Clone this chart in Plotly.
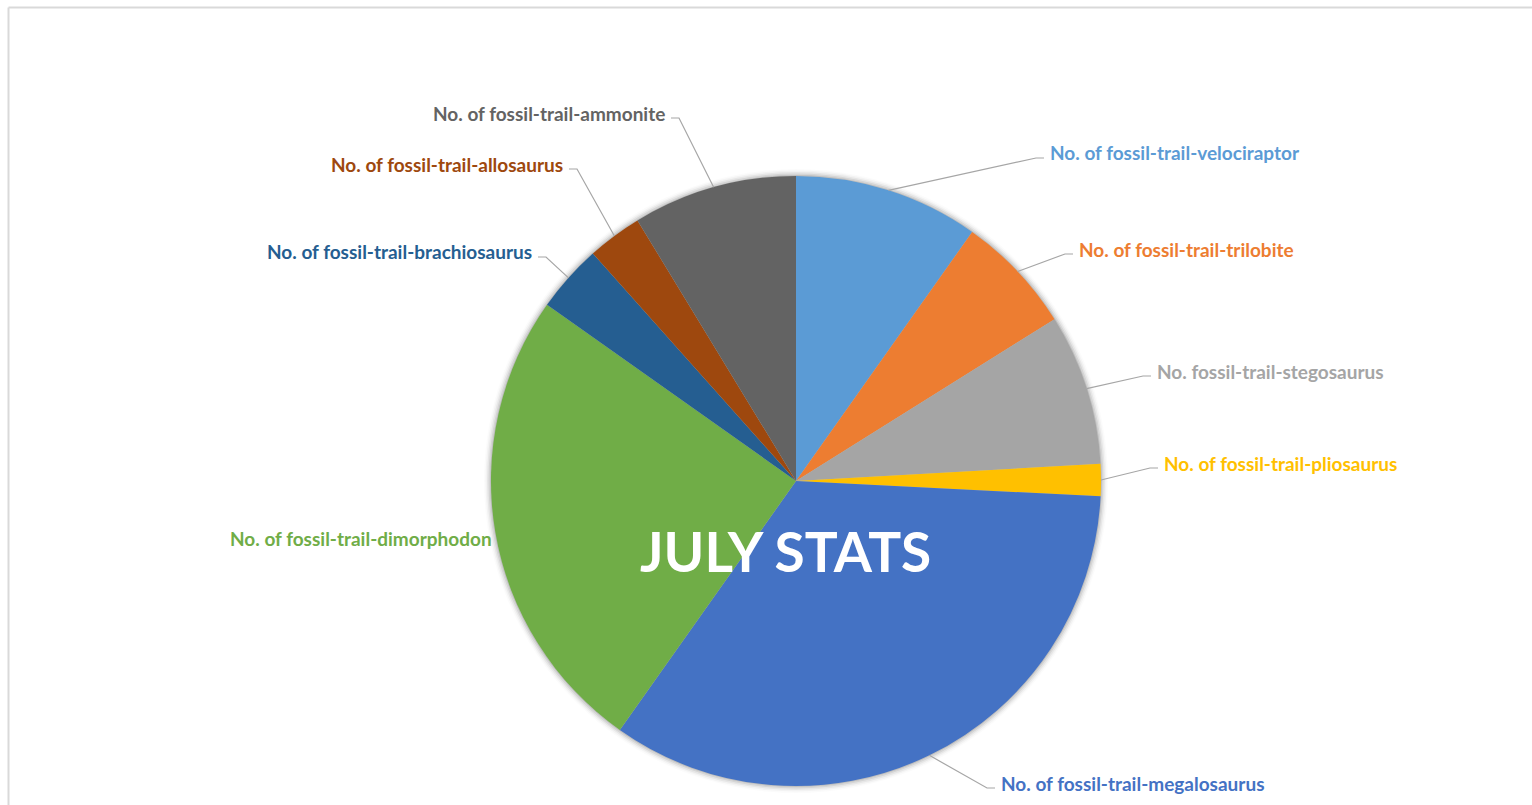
import math
import plotly.graph_objects as go

# Fossil-trail counts for July, clockwise from 12 o'clock
labels = [
    "No. of fossil-trail-velociraptor",
    "No. of fossil-trail-trilobite",
    "No. fossil-trail-stegosaurus",
    "No. of fossil-trail-pliosaurus",
    "No. of fossil-trail-megalosaurus",
    "No. of fossil-trail-dimorphodon",
    "No. of fossil-trail-brachiosaurus",
    "No. of fossil-trail-allosaurus",
    "No. of fossil-trail-ammonite",
]
values = [98, 63, 80, 17, 340, 250, 36, 29, 87]
colors = ["#5B9BD5", "#ED7D31", "#A5A5A5", "#FFC000", "#4472C4",
          "#70AD47", "#255E91", "#9E480E", "#636363"]

# Page geometry (pixels)
W, H = 1532, 805
CX, CY, R = 796, 481, 305

# Label placement: text anchor point (px), side, and whether a leader line is drawn
label_pos = [
    (1048, 153, "left", True),
    (1077, 249, "left", True),
    (1155, 371, "left", True),
    (1162, 463, "left", True),
    (999, 783, "left", True),
    (494, 538, "right", False),
    (534, 252, "right", True),
    (565, 164, "right", True),
    (667, 113, "right", True),
]


def px(x):
    return x / W


def py(y):
    return 1 - y / H


fig = go.Figure()

fig.add_trace(go.Pie(
    labels=labels,
    values=values,
    sort=False,
    direction="clockwise",
    rotation=0,
    marker=dict(colors=colors, line=dict(width=0)),
    textinfo="none",
    hoverinfo="skip",
    showlegend=False,
    domain=dict(x=[px(CX - R), px(CX + R)], y=[py(CY + R), py(CY - R)]),
))

shapes = []

# Chart-area frame (top and left edges)
frame = dict(color="#d9d9d9", width=2)
shapes.append(dict(type="line", xref="paper", yref="paper",
                   x0=px(8.5), x1=1, y0=py(7.5), y1=py(7.5), line=frame, layer="below"))
shapes.append(dict(type="line", xref="paper", yref="paper",
                   x0=px(8.5), x1=px(8.5), y0=py(7.5), y1=0, line=frame, layer="below"))

# Soft halo around the pie
for i, a in enumerate([0.10, 0.07, 0.05, 0.03, 0.015]):
    rr = R + 1 + i * 1.5
    shapes.append(dict(type="circle", xref="paper", yref="paper",
                       x0=px(CX - rr), x1=px(CX + rr),
                       y0=py(CY + rr), y1=py(CY - rr),
                       fillcolor="rgba(0,0,0,%.3f)" % a,
                       line=dict(width=0), layer="below"))

annotations = []
total = sum(values)
cum = 0.0
for lab, val, col, (lx, ly, side, leader) in zip(labels, values, colors, label_pos):
    mid = (cum + val / 2) / total * 2 * math.pi
    cum += val
    ax = CX + R * math.sin(mid)
    ay = CY - R * math.cos(mid)
    if leader:
        line_y = ly + 5
        if side == "left":
            ex, hx = lx - 4, lx - 12
        else:
            ex, hx = lx + 4, lx + 12
        shapes.append(dict(type="path", xref="paper", yref="paper",
                           path="M %f,%f L %f,%f L %f,%f" % (
                               px(ax), py(ay), px(hx), py(line_y), px(ex), py(line_y)),
                           line=dict(color="#a6a6a6", width=1.2)))
    annotations.append(dict(
        x=px(lx), y=py(ly), xref="paper", yref="paper",
        text="<b>%s</b>" % lab, showarrow=False,
        xanchor=side, yanchor="middle",
        font=dict(family="Lato", size=19, color=col),
    ))

annotations.append(dict(
    x=px(786), y=py(551), xref="paper", yref="paper",
    text="<b>JULY STATS</b>", showarrow=False,
    xanchor="center", yanchor="middle",
    font=dict(family="Lato", size=55, color="white"),
))

fig.update_layout(
    width=W, height=H,
    margin=dict(l=0, r=0, t=0, b=0),
    paper_bgcolor="white",
    plot_bgcolor="white",
    shapes=shapes,
    annotations=annotations,
)

fig.write_html("out.html", config={"displayModeBar": False})
